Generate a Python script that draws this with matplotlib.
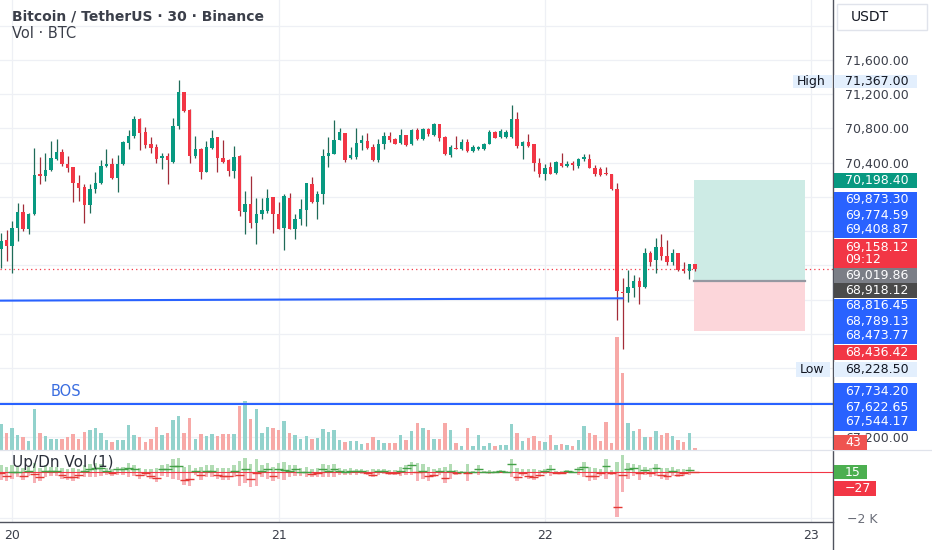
import numpy as np
import matplotlib
matplotlib.use("Agg")
import matplotlib.pyplot as plt
import matplotlib.patches as patches
from matplotlib import transforms

# ---- data: 30m BTCUSDT candles ----
opens = [69390, 69499, 69429, 69643, 69826, 69624, 69799, 70265, 70246, 70312,
         70448, 70530, 70390, 70351, 70168, 70118, 69908, 70090, 70160, 70359,
         70390, 70219, 70382, 70635, 70713, 70907, 70763, 70616, 70584, 70460,
         70479, 70413, 70830, 71226, 71016, 70479, 70565, 70297, 70569, 70697,
         70460, 70433, 70304, 70479, 69830, 69923, 69701, 69799, 69838, 70001,
         69806, 69643, 69993, 69631, 69740, 69845, 70156, 69946, 70040, 70479,
         70507, 70666, 70748, 70452, 70472, 70635, 70650, 70584, 70429, 70616,
         70713, 70674, 70631, 70724, 70616, 70779, 70674, 70791, 70724, 70849,
         70701, 70491, 70569, 70557, 70647, 70538, 70557, 70557, 70623, 70763,
         70701, 70701, 70701, 70907, 70596, 70643, 70616, 70402, 70273, 70351,
         70285, 70402, 70363, 70402, 70363, 70441, 70448, 70343, 70324, 70285,
         70266, 70090, 68896, 68884, 68935, 69021, 68943, 69340, 69262, 69421,
         69312, 69235, 69340, 69157, 69137, 69215]
highs = [69585, 69616, 69721, 69935, 69915, 69818, 70569, 70468, 70514, 70654,
         70678, 70557, 70479, 70351, 70254, 70156, 70149, 70293, 70433, 70557,
         70460, 70487, 70654, 70779, 70946, 70919, 70818, 70701, 70623, 70510,
         70510, 70927, 71367, 71230, 71024, 70713, 70577, 70654, 70783, 70701,
         70666, 70448, 70596, 70487, 70071, 70246, 69985, 69993, 70090, 70001,
         69946, 70032, 70052, 69799, 69974, 70168, 70234, 70071, 70557, 70701,
         70899, 70810, 70748, 70584, 70810, 70724, 70752, 70616, 70674, 70763,
         70759, 70686, 70791, 70724, 70791, 70810, 70810, 70810, 70861, 70849,
         70713, 70608, 70713, 70674, 70674, 70608, 70596, 70635, 70779, 70771,
         70791, 70779, 71075, 70997, 70654, 70740, 70623, 70460, 70390, 70413,
         70421, 70518, 70421, 70421, 70460, 70507, 70507, 70374, 70351, 70351,
         70273, 70168, 69052, 69145, 69091, 69060, 69402, 69371, 69526, 69573,
         69499, 69390, 69340, 69246, 69223, 69223]
lows = [69176, 69254, 69118, 69487, 69604, 69565, 69791, 70149, 70188, 70304,
        70433, 70359, 70293, 69943, 69954, 69701, 69818, 70052, 70149, 70351,
        70207, 70063, 70374, 70557, 70686, 70546, 70569, 70518, 70402, 70332,
        70149, 70402, 70791, 70997, 70402, 70460, 70207, 70293, 70557, 70293,
        70402, 70246, 70227, 69779, 69573, 69643, 69456, 69740, 69818, 69585,
        69624, 69378, 69624, 69507, 69674, 69663, 69935, 69740, 69923, 70351,
        70499, 70662, 70413, 70440, 70448, 70546, 70557, 70421, 70413, 70565,
        70647, 70616, 70616, 70596, 70608, 70666, 70666, 70713, 70713, 70654,
        70491, 70472, 70557, 70546, 70530, 70530, 70546, 70546, 70616, 70693,
        70693, 70693, 70693, 70577, 70440, 70584, 70304, 70234, 70196, 70266,
        70273, 70351, 70351, 70312, 70343, 70421, 70336, 70246, 70246, 70258,
        70083, 68562, 68228.5, 68768, 68834, 68748, 68935, 69196, 69118, 69262,
        69207, 69207, 69137, 69118, 69040, 69130]
closes = [69487, 69429, 69643, 69826, 69624, 69799, 70254, 70246, 70312, 70452,
          70526, 70382, 70343, 70168, 70110, 69908, 70090, 70160, 70363, 70390,
          70219, 70390, 70643, 70713, 70907, 70752, 70604, 70577, 70448, 70479,
          70429, 70830, 71226, 71005, 70479, 70565, 70297, 70584, 70693, 70452,
          70413, 70304, 70468, 69838, 69923, 69701, 69799, 69845, 69993, 69799,
          69624, 70013, 69631, 69748, 69857, 70160, 69946, 70040, 70479, 70514,
          70666, 70756, 70429, 70487, 70635, 70662, 70569, 70429, 70616, 70713,
          70662, 70623, 70724, 70608, 70779, 70674, 70798, 70740, 70849, 70693,
          70499, 70584, 70557, 70647, 70538, 70588, 70584, 70623, 70763, 70693,
          70771, 70763, 70907, 70596, 70647, 70596, 70402, 70273, 70343, 70273,
          70413, 70363, 70390, 70374, 70441, 70468, 70343, 70266, 70258, 70266,
          70090, 68900, 68884, 68943, 69021, 68943, 69340, 69242, 69417, 69312,
          69235, 69340, 69145, 69130, 69215, 69158.12]
volumes = [540, 350, 455, 315, 267, 189, 855, 363, 294, 231,
           231, 231, 267, 336, 225, 372, 420, 468, 363, 210,
           174, 210, 210, 525, 315, 267, 174, 225, 477, 315,
           363, 630, 714, 363, 666, 225, 336, 294, 336, 294,
           336, 336, 336, 924, 1035, 645, 855, 363, 477, 455,
           420, 609, 363, 315, 225, 300, 225, 258, 435, 384,
           420, 210, 174, 189, 189, 126, 153, 267, 210, 153,
           141, 153, 315, 210, 399, 561, 455, 420, 231, 231,
           561, 420, 141, 84, 455, 84, 315, 84, 141, 84,
           105, 105, 546, 350, 189, 245, 294, 189, 161, 315,
           105, 120, 105, 84, 210, 504, 363, 315, 189, 581,
           153, 2373, 1617, 573, 405, 435, 267, 267, 399, 315,
           350, 294, 210, 174, 350, 43]
up_vol = [290, 232, 290, 232, 174, 232, 400, 174, 290, 232,
          232, 174, 146, 174, 146, 290, 348, 406, 348, 174,
          116, 232, 232, 400, 290, 174, 116, 116, 174, 290,
          348, 560, 600, 232, 290, 174, 232, 290, 290, 174,
          174, 174, 290, 500, 610, 348, 560, 290, 406, 232,
          400, 450, 290, 290, 174, 232, 146, 174, 348, 290,
          348, 174, 116, 174, 146, 116, 88, 116, 146, 116,
          88, 88, 232, 290, 440, 400, 348, 232, 116, 174,
          232, 348, 88, 58, 348, 58, 290, 58, 88, 58,
          88, 58, 560, 174, 116, 116, 146, 88, 116, 290,
          58, 58, 88, 58, 232, 450, 232, 174, 116, 560,
          88, 435, 740, 400, 348, 290, 232, 174, 348, 174,
          174, 232, 116, 116, 232, 15]
dn_vol = [348, 406, 290, 232, 348, 174, 500, 406, 232, 174,
          174, 290, 348, 406, 290, 232, 232, 232, 174, 116,
          174, 116, 116, 232, 174, 290, 174, 290, 450, 174,
          232, 290, 348, 560, 610, 116, 348, 232, 232, 290,
          348, 348, 232, 620, 500, 650, 610, 232, 290, 406,
          290, 348, 232, 174, 174, 232, 232, 232, 232, 232,
          232, 116, 116, 116, 116, 88, 116, 232, 116, 88,
          116, 146, 174, 116, 116, 406, 290, 406, 232, 116,
          500, 290, 116, 58, 406, 58, 146, 58, 88, 58,
          58, 58, 232, 406, 174, 290, 348, 232, 88, 174,
          88, 88, 58, 58, 116, 232, 406, 348, 174, 290,
          116, 1958, 870, 290, 174, 348, 146, 232, 174, 290,
          348, 174, 232, 174, 146, 27]

day_idx = [2, 50, 98, 146]
day_labels = ["20", "21", "22", "23"]
price_ticks = [71600, 71200, 70800, 70400, 67200]

high_price = 71367.00
low_price = 68228.50
trend_line = [(-1, 68789.13), (112, 68816.45)]
bos_level = 67580
target, entry, stop = 70198.40, 69019.86, 68436.42
pos_span = (124.9, 144.9)

# ---- styling ----
UP, DN = "#089981", "#f23645"
UP_WICK, DN_WICK = "#1f6b58", "#a32c38"
VOL_UP, VOL_DN = "#92d2cc", "#f7a9a7"
UD_UP, UD_DN = "#b2dcb4", "#f7b0b5"
BLUE = "#2962ff"
GRID = "#eef0f5"
TXT = "#131722"
AXIS = "#50535e"

W, H = 932, 550


def fx(px):
    return px / W


def fy(py):
    return 1 - py / H


plt.rcParams["font.family"] = ["DejaVu Sans"]

fig = plt.figure(figsize=(W / 100, H / 100), dpi=100)
fig.patch.set_facecolor("white")

rect_main = [0, fy(450), fx(833), 450 / H]
ax_vol = fig.add_axes(rect_main)
ax = fig.add_axes(rect_main, sharex=ax_vol)
ax.patch.set_visible(False)
ax_ud = fig.add_axes([0, fy(522), fx(833), 72 / H], sharex=ax_vol)

x = np.arange(len(closes))
o = np.array(opens, float)
h = np.array(highs, float)
l = np.array(lows, float)
c = np.array(closes, float)
up = c >= o

# grid (drawn in the back axes, price coordinates)
blend = transforms.blended_transform_factory(ax_vol.transAxes, ax.transData)
for lv in range(67200, 72401, 400):
    ax_vol.plot([0, 1], [lv, lv], transform=blend, color=GRID, lw=0.9, zorder=0)
for d in day_idx:
    ax_vol.axvline(d, color=GRID, lw=0.9, zorder=0)
    ax_ud.axvline(d, color=GRID, lw=0.9, zorder=0)

# volume
ax_vol.bar(x, volumes, width=0.62, color=np.where(up, VOL_UP, VOL_DN), zorder=1)

# candles
ax.vlines(x, l, h, colors=np.where(up, UP_WICK, DN_WICK), lw=0.9, zorder=3)
body_bot = np.minimum(o, c)
body_h = np.maximum(np.abs(c - o), 8)
ax.bar(x, body_h, bottom=body_bot, width=0.62,
       color=np.where(up, UP, DN), zorder=4)

# drawings
ax.plot([p[0] for p in trend_line], [p[1] for p in trend_line],
        color=BLUE, lw=1.5, zorder=5)
ax.axhline(bos_level, color=BLUE, lw=1.5, zorder=5)
ax.annotate("BOS", (11.7, bos_level), xytext=(0, 4), textcoords="offset points",
            ha="center", va="bottom", color="#3a6de0", fontsize=10.5, zorder=6)
ax.axhline(c[-1], color=DN, lw=0.9, ls=(0, (1, 2.5)), zorder=2)

# long position tool
ax.add_patch(patches.Rectangle((pos_span[0], entry), pos_span[1] - pos_span[0],
                               target - entry, facecolor="#cdebe5",
                               edgecolor="none", zorder=2))
ax.add_patch(patches.Rectangle((pos_span[0], stop), pos_span[1] - pos_span[0],
                               entry - stop, facecolor="#fcd6da",
                               edgecolor="none", zorder=2))
ax.plot(pos_span, [entry, entry], color="#9598a1", lw=1.6, zorder=3)

# up/down volume pane
ax_ud.bar(x, up_vol, width=0.62, color=UD_UP, zorder=1)
ax_ud.bar(x, -np.array(dn_vol), width=0.62, color=UD_DN, zorder=1)
delta = np.array(up_vol) - np.array(dn_vol)
ax_ud.axhline(0, color=DN, lw=0.8, zorder=2)
ax_ud.hlines(delta, x - 0.8, x + 0.8,
             colors=np.where(delta >= 0, "#43a047", "#e53935"), lw=1.0, zorder=3)
ax_ud.axhline(-2000, color=GRID, lw=0.9, zorder=0)
ax_ud.text(12 / 833, (522 - 463) / 72, "Up/Dn Vol (1)", transform=ax_ud.transAxes,
           ha="left", va="center", fontsize=11, color="#2a2e39", zorder=5)

# limits
ax_vol.set_xlim(-0.18, 149.9)
ax_vol.set_ylim(0, 450 * 21)
ax.set_ylim(67044.8, 72300.8)
ax_ud.set_ylim(-2175, 957)

for a in (ax_vol, ax, ax_ud):
    for s in a.spines.values():
        s.set_visible(False)
ax_vol.tick_params(left=False, bottom=False, labelleft=False, labelbottom=False)
ax.tick_params(axis="x", bottom=False, labelbottom=False)
ax.yaxis.tick_right()
ax.set_yticks(price_ticks)
ax.set_yticklabels([f"{p:,.2f}" for p in price_ticks])
ax.tick_params(axis="y", length=0, pad=8.6, labelsize=9, labelcolor="#3b3f4a")

ax_ud.yaxis.tick_right()
ax_ud.set_yticks([-2000])
ax_ud.set_yticklabels(["\u22122 K"])
ax_ud.tick_params(axis="y", length=0, pad=10, labelsize=9, labelcolor="#6a6d78")
ax_ud.set_xticks(day_idx)
ax_ud.set_xticklabels(day_labels)
ax_ud.tick_params(axis="x", length=0, pad=5, labelsize=9, labelcolor="#3b3f4a")

# frame lines
fig.add_artist(plt.Line2D([fx(833), fx(833)], [0, 1], color=AXIS, lw=1.0,
                          transform=fig.transFigure))
fig.add_artist(plt.Line2D([0, fx(833)], [fy(522), fy(522)], color=AXIS, lw=1.0,
                          transform=fig.transFigure))
fig.add_artist(plt.Line2D([0, 1], [fy(450), fy(450)], color="#e0e3eb", lw=0.9,
                          transform=fig.transFigure))


def tag(lines, y0, y1, face, fg="white", x0=834, x1=917, ys=None, tx=845, size=9):
    box = patches.Rectangle((fx(x0), fy(y1)), fx(x1) - fx(x0), (y1 - y0) / H,
                            transform=fig.transFigure, facecolor=face,
                            edgecolor="none", zorder=5)
    fig.add_artist(box)
    if ys is None:
        ys = [(y0 + y1) / 2]
    for s, yy in zip(lines, ys):
        fig.text(fx(tx), fy(yy), s, ha="left", va="center", color=fg,
                 fontsize=size, zorder=6)
    return box


fmt = "{:,.2f}".format
usdt = tag(["USDT"], 4, 30, "white", fg=TXT, x0=837, x1=927, tx=851, size=10)
usdt.set_edgecolor("#e0e3eb")
tag(["High"], 75, 88, "#e3effd", fg=TXT, x0=793, x1=832, tx=797)
tag([fmt(high_price)], 75, 88, "#e3effd", fg=TXT)
tag([fmt(target)], 173, 188, UP)
tag(["69,873.30", "69,774.59", "69,408.87"], 192, 238, BLUE, ys=[200, 215, 230])
tag([fmt(c[-1]), "09:12"], 239, 268, DN, ys=[247, 260])
tag([fmt(entry)], 268, 283, "#7b7e86")
tag(["68,918.12"], 283, 298, "#4a4a4a")
tag([fmt(trend_line[1][1]), fmt(trend_line[0][1]), "68,473.77"], 299, 344, BLUE,
    ys=[305, 321, 336])
tag([fmt(stop)], 345, 360, DN)
tag(["Low"], 362, 377, "#e3effd", fg=TXT, x0=796, x1=830, tx=800)
tag([fmt(low_price)], 362, 377, "#e3effd", fg=TXT)
tag(["67,734.20", "67,622.65", "67,544.17"], 383, 431, BLUE, ys=[392, 407, 422])
tag([str(volumes[-1])], 435, 450, "#ef5350", x1=867)
tag([str(up_vol[-1])], 465, 479, "#4caf50", x1=867)
tag(["\u2212" + str(dn_vol[-1])], 481, 496, DN, x1=876)

# legends
fig.text(fx(12), fy(16), "Bitcoin / TetherUS \u00b7 30 \u00b7 Binance", ha="left",
         va="center", fontsize=10, fontweight="bold", color="#3b3f4a")
fig.text(fx(12), fy(33), "Vol \u00b7 BTC", ha="left", va="center", fontsize=10.5,
         color="#3b3f4a")

fig.savefig("out.png", dpi=100)
